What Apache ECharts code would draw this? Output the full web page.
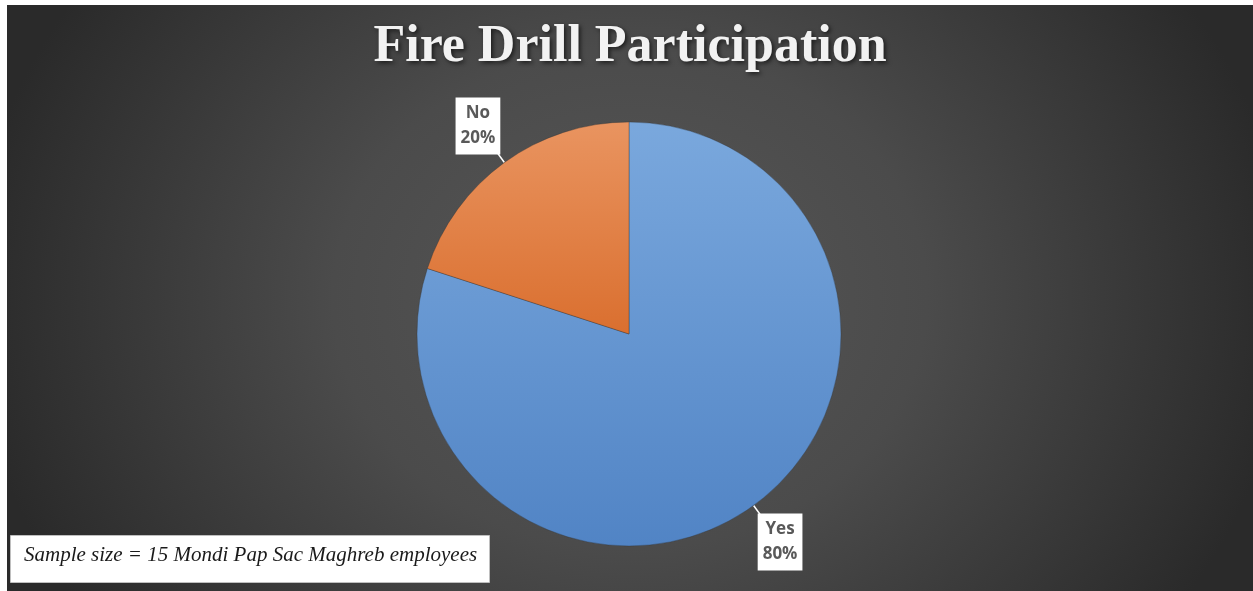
<!DOCTYPE html>
<html>
<head>
<meta charset="utf-8">
<script src="https://cdn.jsdelivr.net/npm/echarts@6/dist/echarts.min.js"></script>
<style>
html,body{margin:0;padding:0;background:#ffffff;}
#chart{position:absolute;left:7px;top:5px;width:1246px;height:586px;
background:radial-gradient(ellipse 53% 95% at 50% 50%, #575757 0%, #4b4b4b 45%, #2a2a2a 100%) #282828;}
</style>
</head>
<body>
<div id="chart"></div>
<script>
const titleText = 'Fire Drill Participation';
const categories = ['Yes', 'No'];
const values = [80, 20];
const noteText = 'Sample size = 15 Mondi Pap Sac Maghreb employees';

const sliceColors = [
  {type:'linear', x:0, y:0, x2:0, y2:1, colorStops:[{offset:0,color:'#7aa8dd'},{offset:1,color:'#5184c5'}]},
  {type:'linear', x:0, y:0, x2:0, y2:1, colorStops:[{offset:0,color:'#e99460'},{offset:1,color:'#da6f2f'}]}
];

const chart = echarts.init(document.getElementById('chart'), null, {renderer:'canvas'});
chart.setOption({
  backgroundColor: 'transparent',
  animation: false,
  title: {
    text: titleText,
    left: 'center',
    top: 12,
    textStyle: {
      fontFamily: '"Liberation Serif", "Times New Roman", serif',
      fontWeight: 'bold',
      fontSize: 52,
      color: '#f2f2f2',
      textShadowColor: 'rgba(0,0,0,0.6)',
      textShadowBlur: 4,
      textShadowOffsetX: 2,
      textShadowOffsetY: 2
    }
  },
  graphic: [
    {
      type: 'rect',
      left: 3, top: 530,
      shape: {width: 479, height: 47},
      style: {fill: '#ffffff', stroke: '#bfbfbf', lineWidth: 1}
    },
    {
      type: 'text',
      left: 17, top: 540,
      style: {
        text: noteText,
        fill: '#1a1a1a',
        font: 'italic 21px "Liberation Serif", "Times New Roman", serif'
      }
    }
  ],
  series: [{
    type: 'pie',
    center: [622, 329],
    radius: 212,
    startAngle: 90,
    clockwise: true,
    percentPrecision: 0,
    itemStyle: {borderColor: 'rgba(50,50,50,0.6)', borderWidth: 0.6},
    label: {
      show: true,
      position: 'outside',
      formatter: '{b}\n{d}%',
      fontFamily: '"Open Sans", "Liberation Sans", sans-serif',
      fontWeight: 'bold',
      fontSize: 17,
      lineHeight: 25,
      color: '#595959',
      backgroundColor: '#ffffff',
      padding: [4, 5, 3, 5],
      distanceToLabelLine: 0
    },
    labelLine: {
      show: true,
      length: 45,
      length2: 0,
      lineStyle: {color: '#ffffff', width: 1.5}
    },
    labelLayout: function () { return {align: 'center'}; },
    emphasis: {disabled: true},
    data: categories.map(function (c, i) {
      return {name: c, value: values[i], itemStyle: {color: sliceColors[i]}};
    })
  }]
});
</script>
</body>
</html>
